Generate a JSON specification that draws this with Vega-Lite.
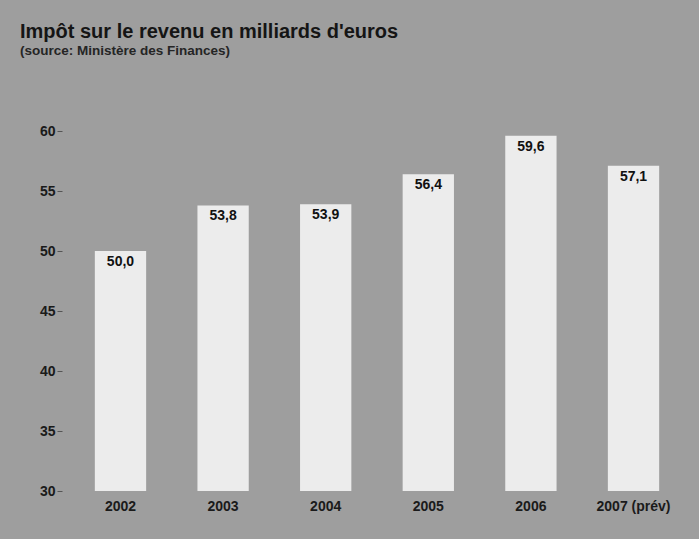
{
  "$schema": "https://vega.github.io/schema/vega-lite/v6.json",
  "autosize": "none",
  "width": 630,
  "height": 384,
  "padding": {"left": 62, "top": 107, "right": 7, "bottom": 48},
  "background": "#9e9e9e",
  "title": {
    "text": "Impôt sur le revenu en milliards d'euros",
    "subtitle": "(source: Ministère des Finances)",
    "anchor": "start",
    "frame": "group",
    "dx": -42,
    "offset": 50,
    "font": "Liberation Sans",
    "fontSize": 20,
    "fontWeight": "bold",
    "color": "#151515",
    "subtitleFont": "Liberation Sans",
    "subtitleFontSize": 13.5,
    "subtitleFontWeight": "bold",
    "subtitleColor": "#252525",
    "subtitlePadding": 2
  },
  "config": {
    "view": {"stroke": null},
    "font": "Liberation Sans"
  },
  "data": {
    "values": [
      {"annee": "2002", "montant": 50.0, "label": "50,0"},
      {"annee": "2003", "montant": 53.8, "label": "53,8"},
      {"annee": "2004", "montant": 53.9, "label": "53,9"},
      {"annee": "2005", "montant": 56.4, "label": "56,4"},
      {"annee": "2006", "montant": 59.6, "label": "59,6"},
      {"annee": "2007 (prév)", "montant": 57.1, "label": "57,1"}
    ]
  },
  "encoding": {
    "x": {
      "field": "annee",
      "type": "nominal",
      "sort": null,
      "scale": {"paddingInner": 0.5, "paddingOuter": 0.32},
      "axis": {
        "title": null,
        "labelAngle": 0,
        "domain": false,
        "ticks": false,
        "labelFontSize": 14,
        "labelFontWeight": "bold",
        "labelColor": "#1a1a1a",
        "labelPadding": 8
      }
    },
    "y": {
      "field": "montant",
      "type": "quantitative",
      "scale": {"domain": [30, 62], "zero": false, "nice": false},
      "axis": {
        "title": null,
        "values": [30, 35, 40, 45, 50, 55, 60],
        "domain": false,
        "grid": false,
        "ticks": true,
        "tickSize": 5,
        "tickColor": "#555555",
        "labelFontSize": 14,
        "labelFontWeight": "bold",
        "labelColor": "#1a1a1a",
        "labelPadding": 2
      }
    }
  },
  "layer": [
    {
      "mark": {"type": "bar", "color": "#ececec"},
      "encoding": {"y2": {"datum": 30}}
    },
    {
      "mark": {
        "type": "text",
        "baseline": "top",
        "dy": 4,
        "fontSize": 14,
        "fontWeight": "bold",
        "color": "#111111"
      },
      "encoding": {"text": {"field": "label"}}
    }
  ]
}
